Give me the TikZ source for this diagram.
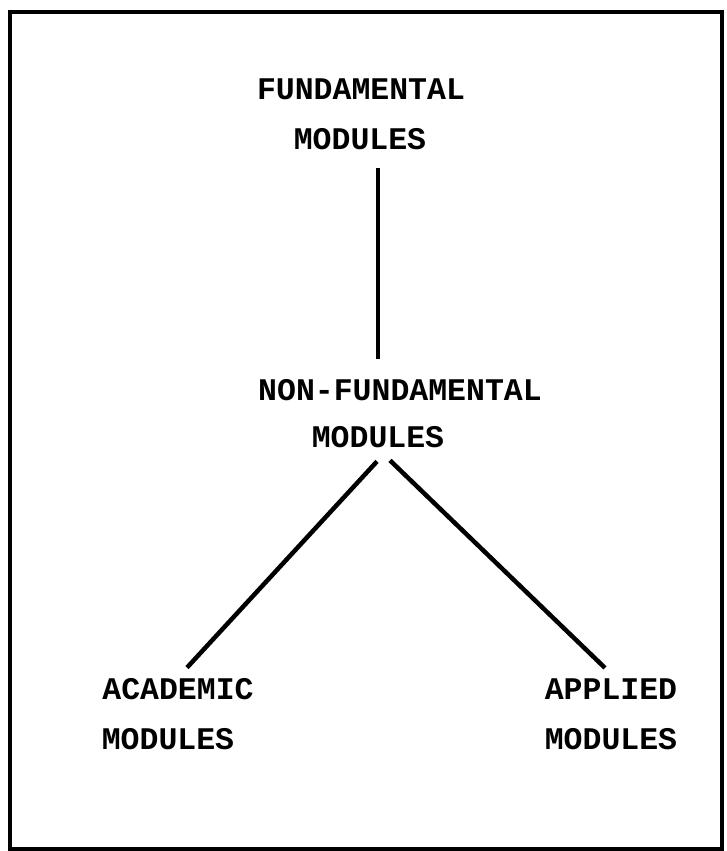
\documentclass[tikz,border=0pt]{standalone}
\usepackage{fontspec}
\newfontfamily\typewriter{Liberation Mono}
\tikzset{every label node/.style={font=\typewriter\bfseries\fontsize{31.5}{36}\selectfont},
         modlabel/.style={every label node,inner sep=10.5pt},
         link/.style={draw,line width=4.5pt},
         frame/.style={draw,line width=4pt}}

\begin{document}
\begin{tikzpicture}[x=1pt,y=-1pt]
    \useasboundingbox (0,0) rectangle (727,851);
    \draw[frame] (10,12) rectangle (722,849);
    % top of the tree
    \node[modlabel] (fund)    at (361,89)  {FUNDAMENTAL};
    \node[modlabel] (fundmod) at (360,139) {MODULES};
    % middle
    \node[modlabel] (nonfund)    at (400,390) {NON-FUNDAMENTAL};
    \node[modlabel] (nonfundmod) at (378,437) {MODULES};
    % leaves
    \node[modlabel] (acad)    at (178,689) {ACADEMIC};
    \node[modlabel] (acadmod) at (168,739) {MODULES};
    \node[modlabel] (appl)    at (611,689) {APPLIED};
    \node[modlabel] (applmod) at (611,739) {MODULES};
    \path[link,shorten <=8pt,shorten >=10pt] (fundmod.south -| nonfundmod) -- (nonfund.north -| nonfundmod);
    \path[link] ([xshift=-1pt,yshift=-3pt]nonfundmod.south) -- ([xshift=9pt]acad.north);
    \path[link] ([xshift=12pt,yshift=-2pt]nonfundmod.south) -- ([xshift=-6pt]appl.north);
\end{tikzpicture}
\end{document}
